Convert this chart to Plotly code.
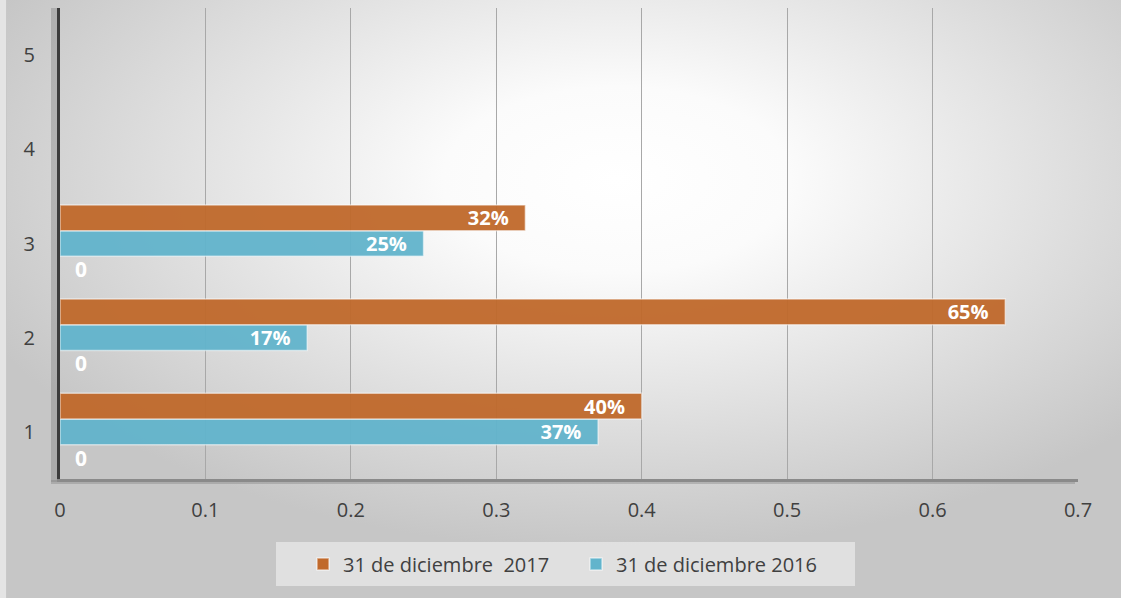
import base64
import plotly.graph_objects as go

# ---- data ----
categories = ["1", "2", "3", "4", "5"]
zero_values = [0, 0, 0, None, None]
values_2016 = [0.37, 0.17, 0.25, None, None]
values_2017 = [0.40, 0.65, 0.32, None, None]
x_ticks = [0, 0.1, 0.2, 0.3, 0.4, 0.5, 0.6, 0.7]
name_2017 = "31 de diciembre\u00a0 2017"
name_2016 = "31 de diciembre 2016"

W, H = 1121, 598
ML, MR, MT, MB = 60, 43, 8, 119
PW, PH = W - ML - MR, H - MT - MB
BARGAP = 0.18

ORANGE = "#C0692B"
CYAN = "#62B4CC"
FONT = "Open Sans"
LABEL_FONT = dict(family=FONT, size=20, color="white", weight="bold")
ZERO_FONT = dict(family=FONT, size=21, color="white", weight="bold")


def px_x(p):
    return (p - ML) / PW


def px_y(p):
    return (H - MB - p) / PH


fig = go.Figure()

fig.add_trace(go.Bar(
    y=categories, x=zero_values, orientation="h", name="0",
    marker=dict(color="rgba(0,0,0,0)", line=dict(width=0)),
    showlegend=False, hoverinfo="skip",
))
fig.add_trace(go.Bar(
    y=categories, x=values_2016, orientation="h", name=name_2016,
    marker=dict(color=CYAN, opacity=0.95,
                line=dict(color="rgba(255,255,255,0.55)", width=1.5)),
    texttemplate="%{x:.0%}\u00a0\u00a0\u2009",
    textposition="inside", insidetextanchor="end", constraintext="none",
    textfont=LABEL_FONT, insidetextfont=LABEL_FONT,
))
fig.add_trace(go.Bar(
    y=categories, x=values_2017, orientation="h", name=name_2017,
    marker=dict(color=ORANGE, opacity=0.95,
                line=dict(color="rgba(255,255,255,0.55)", width=1.5)),
    texttemplate="%{x:.0%}\u00a0\u00a0\u2009",
    textposition="inside", insidetextanchor="end", constraintext="none",
    textfont=LABEL_FONT, insidetextfont=LABEL_FONT,
))

# labels of the zero-valued series (bottom slot of each group)
band_px = PH / len(categories)
slot_px = band_px * (1 - BARGAP) / 3
for idx, v in enumerate(zero_values):
    if v is None:
        continue
    fig.add_annotation(
        x=v, y=idx, xref="x", yref="y", text=f"{v:g}", showarrow=False,
        xanchor="left", yanchor="middle", xshift=13, yshift=-slot_px,
        font=ZERO_FONT,
    )

# radial gradient background as an SVG image
svg = f'''<svg xmlns="http://www.w3.org/2000/svg" width="{W}" height="{H}" viewBox="0 0 {W} {H}">
<defs><radialGradient id="g" cx="0.55" cy="0.30" r="0.62" fx="0.55" fy="0.30">
<stop offset="0" stop-color="#ffffff"/>
<stop offset="0.25" stop-color="#fbfbfb"/>
<stop offset="1" stop-color="#c6c6c6"/>
</radialGradient></defs>
<rect x="0" y="0" width="{W}" height="{H}" fill="url(#g)"/>
<rect x="0" y="0" width="6" height="{H}" fill="#e4e4e4"/>
<rect x="6" y="0" width="1" height="{H}" fill="#c8c8c8"/>
</svg>'''
src = "data:image/svg+xml;base64," + base64.b64encode(svg.encode()).decode()

fig.add_layout_image(dict(
    source=src, xref="paper", yref="paper",
    x=-ML / PW, y=1 + MT / PH, sizex=W / PW, sizey=H / PH,
    xanchor="left", yanchor="top", sizing="stretch", layer="below", opacity=1,
))

# axis shadows
fig.add_shape(type="rect", xref="paper", yref="paper",
              x0=px_x(51), x1=px_x(59), y0=px_y(482), y1=1,
              fillcolor="rgba(120,120,120,0.35)", line=dict(width=0), layer="below")
fig.add_shape(type="rect", xref="paper", yref="paper",
              x0=px_x(51), x1=px_x(1075), y0=px_y(484), y1=px_y(480),
              fillcolor="rgba(120,120,120,0.35)", line=dict(width=0), layer="below")
# legend box
fig.add_shape(type="rect", xref="paper", yref="paper",
              x0=px_x(276), x1=px_x(855), y0=px_y(586), y1=px_y(542),
              fillcolor="rgba(255,255,255,0.45)", line=dict(width=0), layer="below")

fig.update_layout(
    width=W, height=H,
    margin=dict(l=ML, r=MR, t=MT, b=MB),
    paper_bgcolor="#e0e0e0",
    plot_bgcolor="rgba(0,0,0,0)",
    barmode="group", bargap=BARGAP, bargroupgap=0.0,
    font=dict(family=FONT, size=20, color="#404040"),
    showlegend=True,
    legend=dict(
        orientation="h", x=px_x(303), xanchor="left", y=px_y(564), yanchor="middle",
        traceorder="reversed", bgcolor="rgba(0,0,0,0)",
        font=dict(family=FONT, size=20, color="#404040"),
        itemwidth=30, entrywidth=228,
    ),
    xaxis=dict(
        range=[0, 0.7], tickvals=x_ticks, ticktext=[f"{v:g}" for v in x_ticks],
        showgrid=True, gridcolor="#a8a8a8", gridwidth=1,
        showline=True, linecolor="#8a8a8a", linewidth=3,
        zeroline=False, ticks="", ticklabelstandoff=11,
        tickfont=dict(family=FONT, size=20, color="#404040"),
        fixedrange=True,
    ),
    yaxis=dict(
        type="category", categoryorder="array", categoryarray=categories,
        range=[-0.5, 4.5],
        showgrid=False, showline=True, linecolor="#3c3c3c", linewidth=3,
        zeroline=False, ticks="", ticklabelstandoff=18,
        tickfont=dict(family=FONT, size=20, color="#404040"),
        fixedrange=True,
    ),
)

fig.write_html("out.html", config={"displayModeBar": False},
               post_script="document.body.style.margin='0px';")
